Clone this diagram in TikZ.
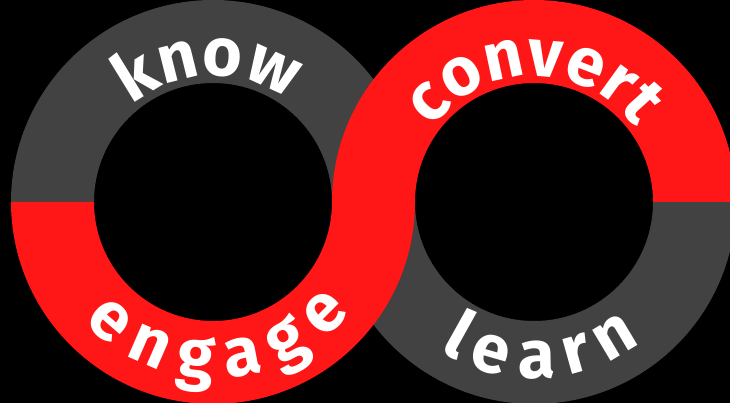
\documentclass[tikz,border=0pt]{standalone}
\usepackage{fontspec}
\setmainfont{Fira Sans}
\usepackage{tikz}
\usetikzlibrary{decorations.text}

\definecolor{ringgray}{HTML}{424242}
\definecolor{ringred}{HTML}{FF1717}
\newcommand{\wordfont}{\fontsize{68}{74}\selectfont\bfseries}

\begin{document}
\begin{tikzpicture}[x=1pt, y=1pt,
        gray_half/.style={fill=ringgray},
        red_half/.style={fill=ringred},
        top_word/.style={decorate, decoration={text along path, text align=center,
            text color=white, text={|\wordfont|#1}}},
        bottom_word/.style={decorate, decoration={text along path, text align=center,
            raise=-50pt, text color=white, text={|\wordfont|#1}}}]

        \useasboundingbox (0,0) rectangle (730,403);
        \fill [black] (0,0) rectangle (730,403);

        \coordinate (L) at (213,201);
        \coordinate (R) at (534,201);

        \fill [gray_half] (L) ++(180:202) arc (180:0:202) -- ++(-83,0) arc (0:180:119) -- cycle;

        \fill [gray_half] (R) ++(180:202) arc (180:360:202) -- ++(-83,0) arc (360:180:119) -- cycle;

        \fill [red_half] (L) ++(180:202) arc (180:360:202) -- ++(-83,0) arc (360:180:119) -- cycle;

        \fill [red_half] (R) ++(180:202) arc (180:0:202) -- ++(-83,0) arc (0:180:119) -- cycle;

        \path [top_word=know] (L) ++(182:126) arc (182:2:126);

        \path [top_word=convert] (R) ++(180:126) arc (180:0:126);

        \path [bottom_word=engage] (L) ++(182:126) arc (182:362:126);

        \path [bottom_word=learn] (R) ++(183:126) arc (183:363:126);

        \end{tikzpicture}
\end{document}
